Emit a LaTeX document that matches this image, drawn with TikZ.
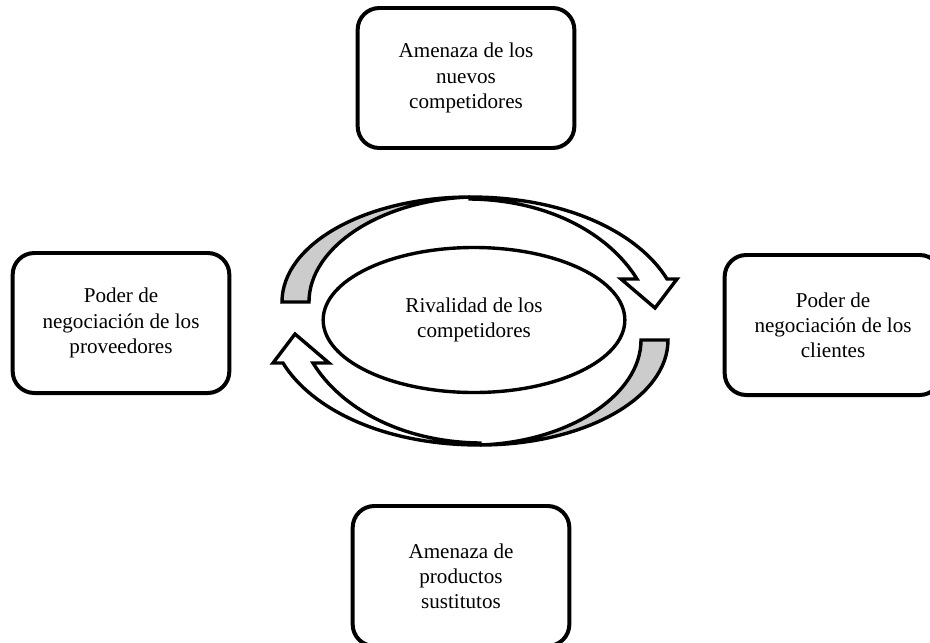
\documentclass[tikz,border=0pt]{standalone}
\usepackage{fontspec}
\setmainfont{Liberation Serif}
\usetikzlibrary{shapes.geometric}

% flecha curva superior (la inferior es la misma girada)
\newcommand{\flecharival}{%
  \filldraw[fill=white] (470,197) .. controls (570,197) and (640,235) .. (667,279)
    -- (677,279) -- (655,308) -- (621,279) -- (637,279)
    .. controls (610,235) and (550,200) .. (470,199) -- cycle;
  \filldraw[fill=gray!40] (282,302) .. controls (282,244) and (366,197) .. (470,197)
    .. controls (381,200) and (309,247) .. (309,302) -- cycle;
}

\begin{document}
\begin{tikzpicture}[x=0.03cm, y=-0.03cm]
        \tikzstyle{fuerza} = [rectangle, draw, line width=3.4pt, rounded corners=0.65cm, minimum width=6.5cm, minimum height=4.2cm, align=center, font=\fontsize{18}{21.5}\selectfont]
        \tikzstyle{centro} = [ellipse, draw, line width=2.9pt, minimum width=9.05cm, minimum height=4.35cm, inner sep=0pt, align=center, font=\fontsize{18}{21.5}\selectfont]
        \tikzstyle{flecha} = [line width=2.9pt, line join=miter]

        \useasboundingbox (0,0) rectangle (930,642);
        \clip (0,0) rectangle (930,642);

        \node [centro] (rivalidad) at (474,320) {Rivalidad de los\\competidores};
        \node [fuerza] (nuevos) at (466,78) {Amenaza de los\\nuevos\\competidores};
        \node [fuerza] (proveedores) at (121,323) {Poder de\\negociación de los\\proveedores};
        \node [fuerza] (clientes) at (833,325) {Poder de\\negociación de los\\clientes};
        \node [fuerza] (sustitutos) at (461,576) {Amenaza de\\productos\\sustitutos};

        % ciclo de rivalidad
        \begin{scope}[flecha]
            \flecharival
        \end{scope}
        \begin{scope}[flecha, rotate around={180:(475,321)}]
            \flecharival
        \end{scope}
    \end{tikzpicture}
\end{document}
